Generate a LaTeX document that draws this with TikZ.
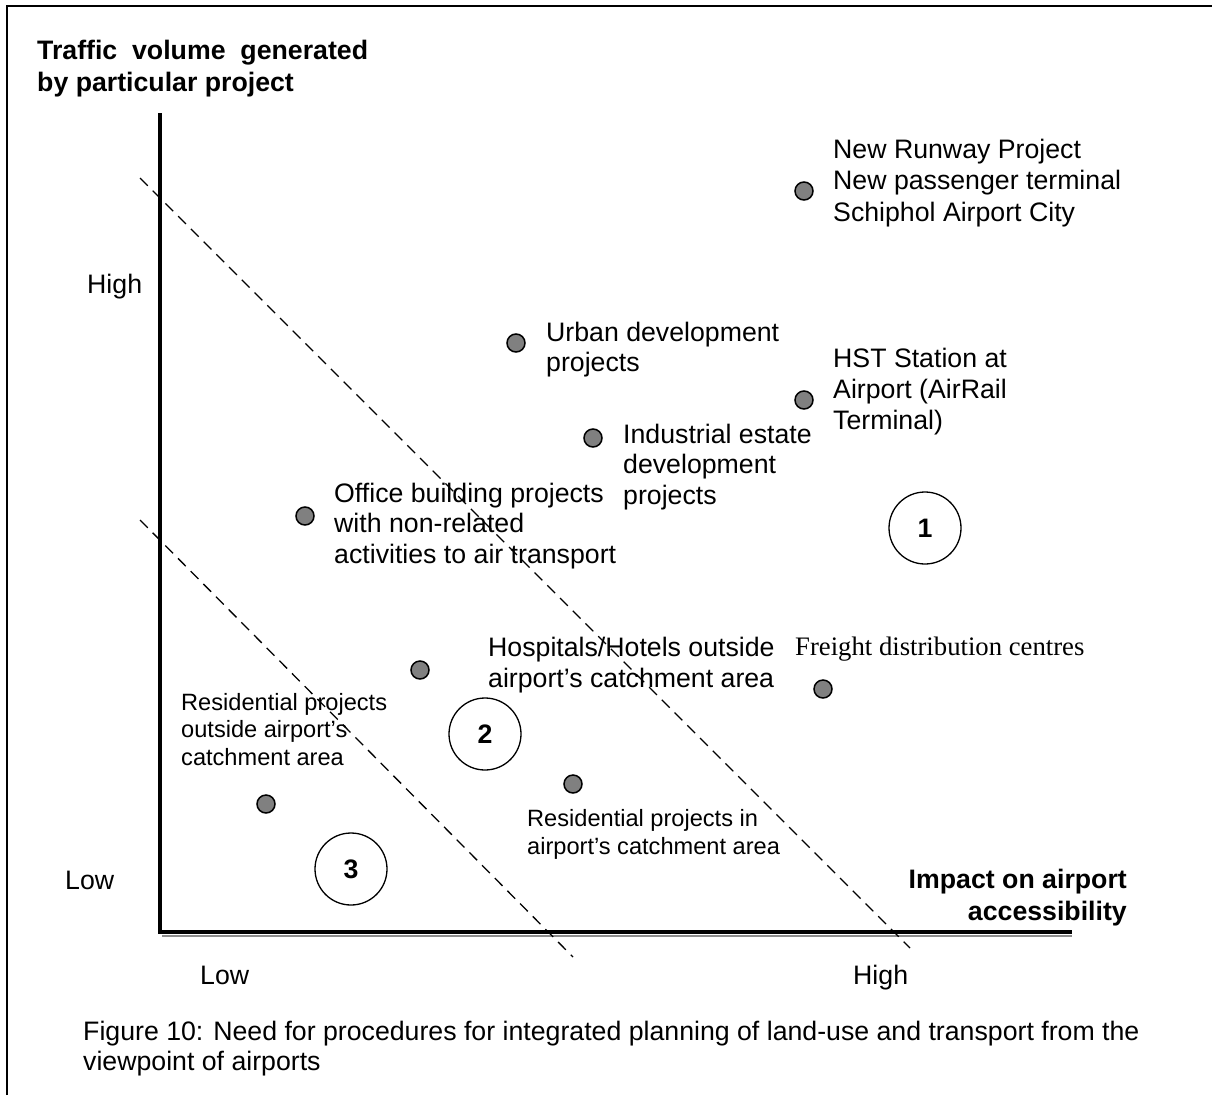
\documentclass[tikz,border=0pt]{standalone}
\usepackage{fontspec}
\setmainfont{Liberation Sans}
\newfontfamily\timesfont{Liberation Serif}
\begin{document}
\begin{tikzpicture}[x=1pt,y=-1pt,
  % multi-line texts are placed by the baseline of their last line
  txt/.style={inner sep=0pt, anchor=base west, align=left,
    font=\fontsize{26.7}{30.5}\selectfont},
  smalltxt/.style={inner sep=0pt, anchor=base west, align=left,
    font=\fontsize{23.6}{27.5}\selectfont},
  boldtxt/.style={inner sep=0pt, anchor=base west, align=left,
    font=\fontsize{26.7}{31.5}\selectfont\bfseries},
  project/.style={circle, draw=black, line width=1.5pt, fill=black!50,
    minimum size=18pt, inner sep=0pt},
  zone/.style={circle, draw=black, line width=1.3pt, minimum size=72pt,
    inner sep=0pt, font=\fontsize{26.7}{30}\selectfont\bfseries},
  divider/.style={line width=1.3pt, dash pattern=on 11pt off 7pt},
  axis/.style={line width=3.5pt}]
\useasboundingbox (0,0) rectangle (1212,1095);

% frame
\draw[line width=2.5pt] (7,1095) -- (7,6) -- (1212,6);

% axes
\coordinate (ytop) at (160,113);
\coordinate (origin) at (160,932);
\coordinate (xend) at (1072,932);
\draw[black!45, line width=2pt] (162,936) -- (1072,936);
\draw[axis] (ytop) -- (origin) -- (xend);

% axis texts
\node[boldtxt] (ytitle) at (37,91) {Traffic\ \ volume\ \ generated\\by particular project};
\node[txt] (yhigh) at (87,293) {High};
\node[txt] (ylow) at (65,889) {Low};
\node[txt] (xlow) at (200,984) {Low};
\node[txt] (xhigh) at (853,984) {High};
\node[boldtxt, anchor=base east, align=right] (xtitle) at (1127,920) {Impact on airport\\accessibility};

% zone dividers
\coordinate (d1a) at (140,178);
\coordinate (d1b) at (910,948);
\coordinate (d2a) at (140,520);
\coordinate (d2b) at (573,957);
\draw[divider] (d1a) -- (d1b);
\draw[divider] (d2a) -- (d2b);

% projects
\node[project] (runway) at (804,191) {};
\node[txt, font=\fontsize{26.7}{31.5}\selectfont] (runwaytxt) at (833,221) {New Runway Project\\New passenger terminal\\Schiphol Airport City};

\node[project] (urban) at (516,343) {};
\node[txt] (urbantxt) at (546,371.5) {Urban development\\projects};

\node[project] (hst) at (804,400) {};
\node[txt, font=\fontsize{26.7}{31}\selectfont] (hsttxt) at (833,429) {HST Station at\\Airport (AirRail\\Terminal)};

\node[project] (industrial) at (593,438) {};
\node[txt] (industrialtxt) at (623,504) {Industrial estate\\development\\projects};

\node[project] (office) at (305,516) {};
\node[txt] (officetxt) at (334,563) {Office building projects\\with non-related\\activities to air transport};

\node[project] (hospitals) at (420,670) {};
\node[txt] (hospitalstxt) at (488,687) {Hospitals/Hotels outside\\airport's catchment area};

\node[project] (freight) at (823,689) {};
\node[txt, font=\fontsize{26.7}{30.5}\selectfont\timesfont] (freighttxt) at (795,655) {Freight distribution centres};

\node[project] (resin) at (573,784) {};
\node[smalltxt] (resintxt) at (527,854) {Residential projects in\\airport's catchment area};

\node[project] (resout) at (266,804) {};
\node[smalltxt] (resouttxt) at (181,765) {Residential projects\\outside airport's\\catchment area};

% zones
\node[zone] (z1) at (925,528) {1};
\node[zone] (z2) at (485,734) {2};
\node[zone] (z3) at (351,869) {3};

% caption
\node[txt, font=\fontsize{26.7}{30}\selectfont] (caption) at (83,1070) {Figure 10: Need for procedures for integrated planning of land-use and transport from the\\viewpoint of airports};
\end{tikzpicture}
\end{document}
